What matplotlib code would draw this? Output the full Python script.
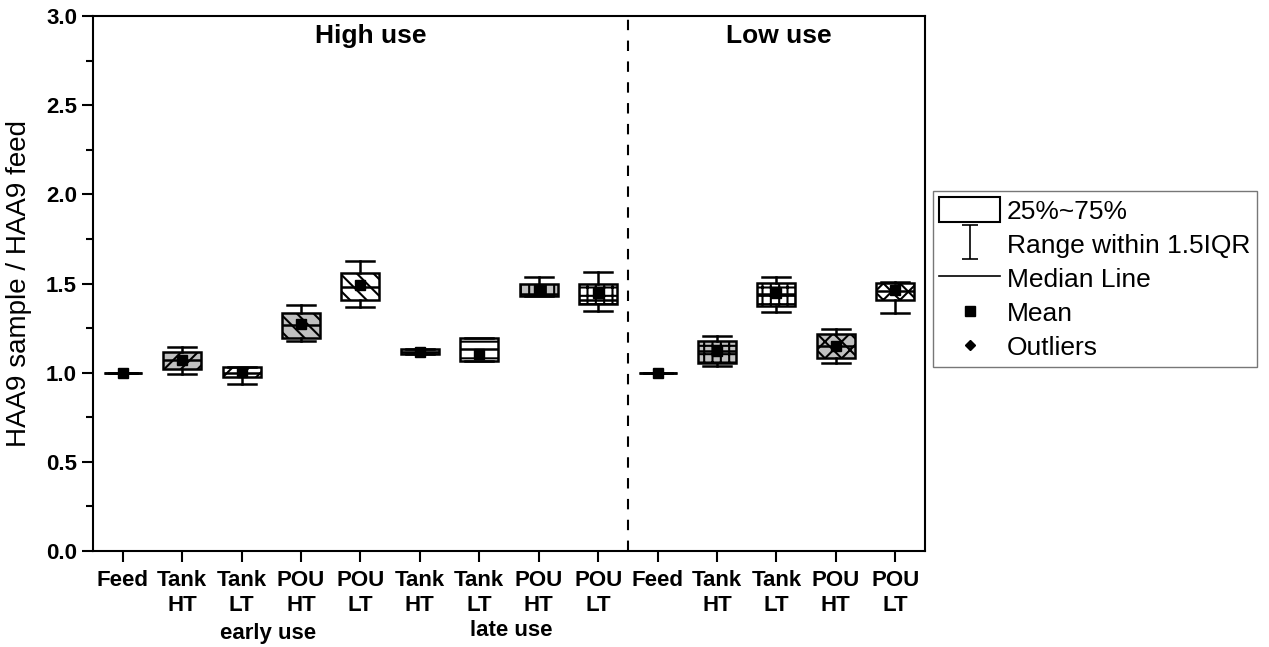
import matplotlib
matplotlib.use("Agg")
import matplotlib.pyplot as plt
from matplotlib.lines import Line2D
from matplotlib.patches import Rectangle
from matplotlib.path import Path
from matplotlib.ticker import MultipleLocator
import matplotlib.transforms as mtransforms

plt.rcParams["font.family"] = ["Liberation Sans", "DejaVu Sans"]
plt.rcParams["hatch.linewidth"] = 1.5
plt.rcParams["hatch.color"] = "black"

# --- data (ratio HAA9 sample / HAA9 feed) ---
labels = ["Feed", "Tank\nHT", "Tank\nLT", "POU\nHT", "POU\nLT",
          "Tank\nHT", "Tank\nLT", "POU\nHT", "POU\nLT",
          "Feed", "Tank\nHT", "Tank\nLT", "POU\nHT", "POU\nLT"]
q1 = [1.00, 1.020, 0.978, 1.197, 1.408, 1.105, 1.066, 1.430, 1.384,
      1.00, 1.053, 1.374, 1.084, 1.408]
q3 = [1.00, 1.118, 1.032, 1.337, 1.561, 1.131, 1.193, 1.496, 1.496,
      1.00, 1.179, 1.501, 1.217, 1.501]
med = [1.00, 1.070, 1.000, 1.270, 1.480, 1.118, 1.133, 1.440, 1.410,
       1.00, 1.120, 1.440, 1.150, 1.460]
whislo = [1.00, 0.991, 0.937, 1.180, 1.369, 1.105, 1.066, 1.430, 1.346,
          1.00, 1.038, 1.342, 1.053, 1.337]
whishi = [1.00, 1.146, 1.032, 1.378, 1.625, 1.131, 1.193, 1.538, 1.566,
          1.00, 1.206, 1.538, 1.245, 1.510]
means = [1.00, 1.071, 1.006, 1.273, 1.492, 1.118, 1.105, 1.464, 1.445,
         1.00, 1.122, 1.445, 1.152, 1.464]
fills = ["white", "#c0c0c0", "white", "#c0c0c0", "white",
         "#c0c0c0", "white", "#c0c0c0", "white",
         "white", "#c0c0c0", "white", "#c0c0c0", "white"]
hatches = [None, "//", "//", "\\\\", "\\\\", "-", "-", "||", "++",
           None, "++", "++", "xx", "xx"]

positions = list(range(1, len(labels) + 1))

fig = plt.figure(figsize=(12.69, 6.47), dpi=100)
ax = fig.add_axes([0.0733, 0.1484, 0.6556, 0.8268])

stats = []
for i in range(len(labels)):
    stats.append(dict(med=med[i], q1=q1[i], q3=q3[i], whislo=whislo[i],
                      whishi=whishi[i], mean=means[i], fliers=[]))

bp = ax.bxp(stats, positions=positions, widths=0.64, capwidths=0.47,
            patch_artist=True, showmeans=True, showfliers=False,
            boxprops=dict(linewidth=1.8, edgecolor="black"),
            whiskerprops=dict(linewidth=1.8, color="black"),
            capprops=dict(linewidth=1.8, color="black"),
            medianprops=dict(linewidth=1.8, color="black"),
            meanprops=dict(marker="s", markerfacecolor="black",
                           markeredgecolor="black", markersize=7.5))
for patch, fc, h in zip(bp["boxes"], fills, hatches):
    patch.set_facecolor(fc)
    if h:
        patch.set_hatch(h)

ax.axvline(9.5, color="black", lw=1.5, ls=(0, (5, 5)))

ax.set_xlim(0.5, 14.5)
ax.set_ylim(0, 3.0)
ax.set_xticks(positions)
ax.set_xticklabels(labels, fontsize=16, fontweight="bold", linespacing=1.2)
ax.yaxis.set_major_locator(MultipleLocator(0.5))
ax.yaxis.set_minor_locator(MultipleLocator(0.25))
ax.yaxis.set_major_formatter(plt.FormatStrFormatter("%.1f"))
for lab in ax.get_yticklabels():
    lab.set_fontsize(16)
    lab.set_fontweight("bold")
ax.tick_params(axis="both", which="major", direction="out", length=8, width=1.5)
ax.tick_params(axis="x", which="major", pad=6)
ax.tick_params(axis="y", which="minor", direction="out", length=5, width=1.5)
ax.tick_params(axis="x", which="minor", bottom=False)
for sp in ax.spines.values():
    sp.set_linewidth(1.5)

ax.set_ylabel("HAA9 sample / HAA9 feed", fontsize=20, labelpad=10)

ax.text(5.17, 2.89, "High use", fontsize=19, fontweight="bold",
        ha="center", va="center")
ax.text(12.04, 2.89, "Low use", fontsize=19, fontweight="bold",
        ha="center", va="center")

trans = mtransforms.blended_transform_factory(ax.transData, fig.transFigure)
ax.text(3.45, 1 - 634 / 647, "early use", transform=trans, fontsize=16,
        fontweight="bold", ha="center", va="center")
ax.text(7.53, 1 - 631 / 647, "late use", transform=trans, fontsize=16,
        fontweight="bold", ha="center", va="center")

# legend
ibeam = Path([(-0.5, 1), (0.5, 1), (0, 1), (0, -1), (-0.5, -1), (0.5, -1)],
             [Path.MOVETO, Path.LINETO, Path.MOVETO, Path.LINETO,
              Path.MOVETO, Path.LINETO])
handles = [
    Rectangle((0, 0), 1, 1, facecolor="white", edgecolor="black", lw=1.5),
    Line2D([], [], ls="none", marker=ibeam, markersize=24,
           markerfacecolor="none", markeredgecolor="black", markeredgewidth=1.2),
    Line2D([], [], color="black", lw=1.2),
    Line2D([], [], ls="none", marker="s", color="black", markersize=7),
    Line2D([], [], ls="none", marker="D", color="black", markersize=5),
]
leg_labels = ["25%~75%", "Range within 1.5IQR", "Median Line", "Mean", "Outliers"]
fig.legend(handles, leg_labels, loc="center left",
           bbox_to_anchor=(0.735, 0.569), fontsize=19, frameon=True,
           fancybox=False, edgecolor="#555555", handlelength=2.3,
           handleheight=1.05, handletextpad=0.25, labelspacing=0.3,
           borderpad=0.25, borderaxespad=0.0)

fig.savefig("out.png", dpi=100)
